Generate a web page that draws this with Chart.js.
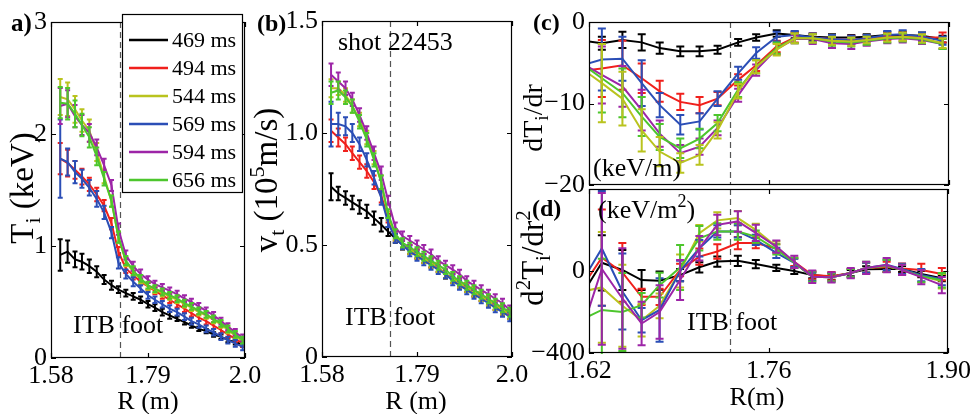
<!DOCTYPE html>
<html><head><meta charset="utf-8">
<script src="https://cdn.jsdelivr.net/npm/chart.js@4.4.0/dist/chart.umd.min.js"></script>
<style>
html,body{margin:0;padding:0;background:#fff;}
#wrap{position:relative;width:974px;height:414px;overflow:hidden;background:#fff;}
#wrap canvas{position:absolute;left:0;top:0;}
</style></head>
<body><div id="wrap">
<canvas id="ca" width="974" height="414"></canvas>
<canvas id="cb" width="974" height="414"></canvas>
<canvas id="cc" width="974" height="414"></canvas>
<canvas id="cd" width="974" height="414"></canvas>
</div>
<script>
// ---------------- DATA ----------------
const SERIES_LABELS = ['469 ms', '494 ms', '544 ms', '569 ms', '594 ms', '656 ms'];
const ITB_FOOT_R = 1.73;

// (a),(b): major radius grid of the profiles
const R_PROFILE = [1.600, 1.616, 1.632, 1.647, 1.663, 1.679, 1.695, 1.711, 1.726, 1.742, 1.758, 1.774, 1.790, 1.805, 1.821, 1.837, 1.853, 1.869, 1.884, 1.900, 1.916, 1.932, 1.948, 1.963, 1.979, 1.995];

// (a) Ti (keV)
const TI_469 = [0.92, 0.95, 0.88, 0.86, 0.82, 0.77, 0.70, 0.65, 0.61, 0.58, 0.55, 0.52, 0.48, 0.45, 0.41, 0.38, 0.35, 0.32, 0.29, 0.26, 0.24, 0.21, 0.19, 0.16, 0.14, 0.12];
const TI_494 = [1.78, 1.74, 1.68, 1.62, 1.55, 1.46, 1.36, 1.20, 0.95, 0.80, 0.74, 0.68, 0.64, 0.60, 0.56, 0.52, 0.48, 0.44, 0.40, 0.36, 0.33, 0.29, 0.25, 0.21, 0.17, 0.13];
const TI_544 = [2.33, 2.31, 2.22, 2.12, 2.03, 1.84, 1.62, 1.40, 1.08, 0.86, 0.77, 0.70, 0.64, 0.61, 0.58, 0.55, 0.52, 0.48, 0.45, 0.41, 0.38, 0.34, 0.30, 0.25, 0.20, 0.15];
const TI_569 = [1.78, 1.75, 1.66, 1.60, 1.52, 1.42, 1.30, 1.12, 0.85, 0.75, 0.68, 0.62, 0.56, 0.52, 0.48, 0.44, 0.41, 0.37, 0.33, 0.30, 0.26, 0.23, 0.19, 0.16, 0.13, 0.10];
const TI_594 = [2.25, 2.27, 2.16, 2.08, 2.01, 1.88, 1.72, 1.54, 1.15, 0.92, 0.82, 0.75, 0.70, 0.66, 0.63, 0.60, 0.57, 0.53, 0.50, 0.46, 0.42, 0.38, 0.33, 0.28, 0.23, 0.18];
const TI_656 = [2.28, 2.27, 2.18, 2.08, 1.97, 1.80, 1.60, 1.40, 1.08, 0.87, 0.78, 0.71, 0.65, 0.62, 0.59, 0.56, 0.53, 0.49, 0.46, 0.42, 0.39, 0.35, 0.31, 0.26, 0.21, 0.16];
const TI_ERR_469 = [0.14, 0.10, 0.07, 0.07, 0.06, 0.05, 0.04, 0.04, 0.03, 0.03, 0.03, 0.03, 0.03, 0.03, 0.03, 0.03, 0.02, 0.02, 0.02, 0.02, 0.02, 0.02, 0.02, 0.02, 0.02, 0.02];
const TI_ERR_494 = [0.14, 0.12, 0.08, 0.07, 0.06, 0.06, 0.05, 0.05, 0.04, 0.04, 0.04, 0.03, 0.03, 0.03, 0.03, 0.03, 0.03, 0.03, 0.03, 0.03, 0.03, 0.03, 0.03, 0.03, 0.03, 0.03];
const TI_ERR_544 = [0.16, 0.15, 0.12, 0.10, 0.10, 0.08, 0.06, 0.05, 0.05, 0.04, 0.04, 0.04, 0.03, 0.03, 0.03, 0.03, 0.03, 0.03, 0.03, 0.03, 0.03, 0.03, 0.03, 0.03, 0.03, 0.03];
const TI_ERR_569 = [0.35, 0.12, 0.10, 0.08, 0.07, 0.07, 0.06, 0.05, 0.05, 0.04, 0.04, 0.03, 0.03, 0.03, 0.03, 0.03, 0.03, 0.03, 0.03, 0.03, 0.03, 0.03, 0.03, 0.03, 0.03, 0.03];
const TI_ERR_594 = [0.16, 0.12, 0.10, 0.09, 0.08, 0.07, 0.06, 0.05, 0.05, 0.04, 0.04, 0.04, 0.03, 0.03, 0.03, 0.03, 0.03, 0.03, 0.03, 0.03, 0.03, 0.03, 0.03, 0.03, 0.03, 0.03];
const TI_ERR_656 = [0.14, 0.14, 0.12, 0.10, 0.09, 0.08, 0.06, 0.05, 0.05, 0.04, 0.04, 0.03, 0.03, 0.03, 0.03, 0.03, 0.03, 0.03, 0.03, 0.03, 0.03, 0.03, 0.03, 0.03, 0.03, 0.03];

// (b) vt (10^5 m/s)
const VT_469 = [0.76, 0.73, 0.71, 0.69, 0.67, 0.65, 0.62, 0.59, 0.56, 0.53, 0.50, 0.48, 0.46, 0.44, 0.42, 0.40, 0.37, 0.35, 0.33, 0.31, 0.29, 0.27, 0.25, 0.23, 0.21, 0.19];
const VT_494 = [1.01, 0.98, 0.95, 0.91, 0.87, 0.83, 0.78, 0.72, 0.62, 0.54, 0.50, 0.48, 0.46, 0.44, 0.42, 0.40, 0.37, 0.35, 0.33, 0.31, 0.29, 0.27, 0.25, 0.23, 0.21, 0.19];
const VT_544 = [1.20, 1.20, 1.17, 1.12, 1.06, 0.98, 0.89, 0.78, 0.63, 0.54, 0.50, 0.48, 0.46, 0.44, 0.42, 0.40, 0.37, 0.35, 0.33, 0.31, 0.29, 0.27, 0.25, 0.23, 0.21, 0.19];
const VT_569 = [1.04, 1.04, 1.03, 1.00, 0.95, 0.88, 0.80, 0.71, 0.60, 0.53, 0.50, 0.47, 0.45, 0.43, 0.41, 0.39, 0.37, 0.34, 0.32, 0.30, 0.28, 0.26, 0.24, 0.22, 0.20, 0.18];
const VT_594 = [1.26, 1.23, 1.20, 1.15, 1.08, 1.00, 0.91, 0.82, 0.70, 0.58, 0.54, 0.52, 0.50, 0.48, 0.46, 0.43, 0.41, 0.39, 0.37, 0.34, 0.32, 0.30, 0.28, 0.26, 0.24, 0.21];
const VT_656 = [1.18, 1.19, 1.16, 1.12, 1.05, 0.97, 0.88, 0.78, 0.64, 0.55, 0.51, 0.49, 0.47, 0.45, 0.43, 0.41, 0.39, 0.36, 0.34, 0.32, 0.30, 0.28, 0.26, 0.24, 0.22, 0.20];
const VT_ERR_469 = [0.06, 0.03, 0.03, 0.03, 0.03, 0.03, 0.03, 0.03, 0.02, 0.02, 0.02, 0.02, 0.02, 0.02, 0.02, 0.02, 0.02, 0.02, 0.02, 0.02, 0.02, 0.02, 0.02, 0.02, 0.02, 0.02];
const VT_ERR_494 = [0.05, 0.04, 0.03, 0.03, 0.03, 0.03, 0.03, 0.03, 0.02, 0.02, 0.02, 0.02, 0.02, 0.02, 0.02, 0.02, 0.02, 0.02, 0.02, 0.02, 0.02, 0.02, 0.02, 0.02, 0.02, 0.02];
const VT_ERR_544 = [0.04, 0.03, 0.03, 0.03, 0.03, 0.03, 0.03, 0.03, 0.02, 0.02, 0.02, 0.02, 0.02, 0.02, 0.02, 0.02, 0.02, 0.02, 0.02, 0.02, 0.02, 0.02, 0.02, 0.02, 0.02, 0.02];
const VT_ERR_569 = [0.10, 0.05, 0.04, 0.04, 0.03, 0.03, 0.03, 0.03, 0.02, 0.02, 0.02, 0.02, 0.02, 0.02, 0.02, 0.02, 0.02, 0.02, 0.02, 0.02, 0.02, 0.02, 0.02, 0.02, 0.02, 0.02];
const VT_ERR_594 = [0.05, 0.04, 0.03, 0.03, 0.03, 0.03, 0.03, 0.03, 0.02, 0.02, 0.02, 0.02, 0.02, 0.02, 0.02, 0.02, 0.02, 0.02, 0.02, 0.02, 0.02, 0.02, 0.02, 0.02, 0.02, 0.02];
const VT_ERR_656 = [0.05, 0.04, 0.03, 0.03, 0.03, 0.03, 0.03, 0.03, 0.02, 0.02, 0.02, 0.02, 0.02, 0.02, 0.02, 0.02, 0.02, 0.02, 0.02, 0.02, 0.02, 0.02, 0.02, 0.02, 0.02, 0.02];

// (c),(d): radius grid of the gradients
const R_GRAD = [1.615, 1.630, 1.646, 1.661, 1.675, 1.691, 1.706, 1.720, 1.736, 1.750, 1.766, 1.780, 1.794, 1.809, 1.824, 1.836, 1.852, 1.864, 1.879, 1.895];

// (c) dTi/dr (keV/m)
const DTI_469 = [-2.3, -2.6, -2.2, -2.5, -3.2, -3.6, -3.6, -3.4, -2.5, -1.9, -1.4, -1.6, -1.8, -1.9, -1.9, -1.8, -1.6, -1.6, -1.7, -2.1];
const DTI_494 = [-6.0, -5.7, -5.3, -6.9, -8.5, -9.8, -10.2, -9.4, -7.1, -5.3, -3.0, -1.9, -1.9, -2.1, -2.2, -2.0, -1.8, -1.8, -1.9, -1.9];
const DTI_544 = [-5.8, -7.5, -9.4, -13.3, -15.9, -17.3, -16.3, -13.3, -8.5, -5.5, -3.4, -2.0, -2.0, -2.3, -2.4, -2.2, -1.9, -1.8, -2.0, -2.6];
const DTI_569 = [-5.3, -4.6, -4.5, -7.5, -10.2, -12.6, -12.2, -9.4, -6.3, -3.8, -1.8, -1.6, -1.9, -2.1, -2.2, -2.0, -1.6, -1.5, -1.8, -2.3];
const DTI_594 = [-5.1, -6.5, -7.9, -10.8, -13.7, -16.1, -15.3, -13.0, -9.0, -5.9, -3.3, -2.1, -2.1, -2.6, -2.7, -2.4, -2.1, -2.0, -2.2, -2.7];
const DTI_656 = [-5.2, -6.9, -8.7, -11.6, -14.1, -15.5, -14.3, -12.4, -8.3, -5.5, -3.2, -2.0, -2.0, -2.4, -2.5, -2.3, -2.0, -1.9, -2.1, -2.7];
const DTI_ERR_469 = [0.8, 0.8, 1.0, 1.0, 0.7, 0.6, 0.6, 0.5, 0.4, 0.4, 0.4, 0.4, 0.4, 0.4, 0.3, 0.3, 0.4, 0.4, 0.4, 0.4];
const DTI_ERR_494 = [3.0, 3.5, 3.0, 1.8, 1.3, 1.0, 1.0, 0.8, 0.7, 0.7, 0.7, 0.6, 0.5, 0.5, 0.5, 0.4, 0.4, 0.5, 0.5, 0.6];
const DTI_ERR_544 = [4.5, 4.8, 3.3, 2.6, 1.8, 1.2, 1.2, 1.0, 0.9, 0.8, 0.7, 0.6, 0.5, 0.5, 0.5, 0.4, 0.5, 0.5, 0.5, 0.6];
const DTI_ERR_569 = [3.5, 3.8, 2.7, 2.8, 1.5, 1.2, 1.0, 0.9, 0.8, 0.7, 0.6, 0.5, 0.5, 0.5, 0.5, 0.4, 0.5, 0.5, 0.5, 0.5];
const DTI_ERR_594 = [3.5, 3.5, 2.5, 2.5, 1.6, 1.0, 1.0, 0.9, 0.8, 0.7, 0.7, 0.5, 0.6, 0.6, 0.6, 0.5, 0.5, 0.5, 0.5, 0.6];
const DTI_ERR_656 = [4.0, 4.2, 3.0, 2.4, 1.6, 1.2, 1.2, 1.0, 0.9, 0.8, 0.7, 0.6, 0.5, 0.5, 0.5, 0.5, 0.5, 0.5, 0.5, 0.6];

// (d) d2Ti/dr2 (keV/m^2)
const D2TI_469 = [-110, 40, 5, -44, -47, -20, 18, 46, 50, 34, 15, 0, -20, -28, -10, 8, 10, 10, -15, -35];
const D2TI_494 = [-75, 65, -7, -126, -126, 5, 70, 95, 136, 136, 110, 45, -20, -25, -10, 15, 20, 12, 5, -15];
const D2TI_544 = [-100, -80, -170, -240, -170, 0, 184, 247, 258, 201, 119, 40, -28, -31, -10, 15, 25, 5, -25, -50];
const D2TI_569 = [-47, 110, -100, -240, -190, 0, 111, 193, 193, 152, 88, 40, -28, -31, -10, 15, 30, 10, -20, -40];
const D2TI_594 = [-280, 10, -134, -256, -200, -44, 111, 225, 242, 186, 119, 45, -28, -31, -10, 15, 29, 5, -30, -69];
const D2TI_656 = [-235, -190, -200, -167, -69, 17, 160, 193, 193, 168, 105, 40, -28, -31, -10, 15, 25, 5, -25, -45];
const D2TI_ERR_469 = [130, 135, 98, 49, 45, 30, 25, 25, 25, 20, 15, 15, 15, 15, 15, 15, 15, 15, 15, 15];
const D2TI_ERR_494 = [200, 235, 143, 40, 40, 30, 40, 35, 30, 25, 20, 20, 20, 20, 20, 25, 25, 25, 30, 30];
const D2TI_ERR_544 = [250, 270, 200, 80, 60, 80, 40, 40, 35, 30, 25, 20, 20, 20, 20, 25, 30, 25, 30, 35];
const D2TI_ERR_569 = [250, 280, 185, 60, 155, 50, 40, 30, 30, 25, 25, 20, 20, 20, 20, 25, 25, 25, 30, 30];
const D2TI_ERR_594 = [300, 370, 245, 106, 130, 98, 60, 50, 50, 40, 30, 30, 30, 25, 25, 30, 35, 25, 35, 40];
const D2TI_ERR_656 = [240, 250, 190, 60, 60, 110, 60, 40, 40, 30, 25, 25, 25, 20, 20, 30, 30, 25, 30, 35];

// tick values and labels
const X_TICKS_AB = [1.58, 1.79, 2.0];
const X_LABELS_AB = ['1.58', '1.79', '2.0'];
const X_TICKS_CD = [1.62, 1.76, 1.90];
const X_LABELS_CD = ['1.62', '1.76', '1.90'];
const Y_TICKS_A = [0, 1, 2, 3];
const Y_LABELS_A = ['0', '1', '2', '3'];
const Y_TICKS_B = [0, 0.5, 1.0, 1.5];
const Y_LABELS_B = ['0', '0.5', '1.0', '1.5'];
const Y_TICKS_C = [-20, -10, 0];
const Y_LABELS_C = ['\u221220', '\u221210', '0'];
const Y_TICKS_D = [-400, 0, 400];
const Y_LABELS_D = ['\u2212400', '0', ''];

// ---------------- STYLE / LAYOUT ----------------
const COLORS = ['#000000', '#f0201c', '#b9c31e', '#2b4eb6', '#9d25a7', '#4dc62d'];
const FONT = "'Liberation Serif', 'Times New Roman', serif";
const W = 974, H = 414, XH = 30;
Chart.defaults.font.family = FONT;
Chart.defaults.color = '#000';

function fnt(size, bold) { return (bold ? 'bold ' : '') + size + 'px ' + FONT; }

function drawRich(ctx, parts, x, y, rot, align) {
  ctx.save();
  ctx.translate(x, y);
  if (rot) ctx.rotate(rot);
  ctx.textBaseline = 'alphabetic';
  ctx.textAlign = 'left';
  ctx.fillStyle = '#000';
  let total = 0;
  parts.forEach(p => { ctx.font = fnt(p[1], p[3]); total += ctx.measureText(p[0]).width; });
  let cx = align === 'center' ? -total / 2 : 0;
  parts.forEach(p => { ctx.font = fnt(p[1], p[3]); ctx.fillText(p[0], cx, p[2]); cx += ctx.measureText(p[0]).width; });
  ctx.restore();
}

const errorBarPlugin = {
  id: 'errorBars',
  afterDatasetDraw(chart, args, opts) {
    const ds = chart.data.datasets[args.index];
    if (!ds.errors) return;
    const xs = chart.scales.x, ys = chart.scales.y, ca = chart.chartArea, ctx = chart.ctx;
    const cap = opts.cap || 3;
    ctx.save();
    ctx.beginPath();
    ctx.rect(ca.left, ca.top - 1, ca.right - ca.left, ca.bottom - ca.top + 2);
    ctx.clip();
    ctx.strokeStyle = ds.borderColor;
    ctx.lineWidth = opts.width || 2;
    ds.data.forEach((p, i) => {
      if (p.x < xs.min || p.x > xs.max) return;
      const e = ds.errors[i];
      const px = xs.getPixelForValue(p.x);
      const y1 = ys.getPixelForValue(p.y - e), y2 = ys.getPixelForValue(p.y + e);
      ctx.beginPath();
      ctx.moveTo(px, y1); ctx.lineTo(px, y2);
      ctx.moveTo(px - cap, y1); ctx.lineTo(px + cap, y1);
      ctx.moveTo(px - cap, y2); ctx.lineTo(px + cap, y2);
      ctx.stroke();
    });
    ctx.restore();
  }
};

const decorPlugin = {
  id: 'decor',
  beforeDatasetsDraw(chart, args, opts) {
    const ctx = chart.ctx, ca = chart.chartArea, xs = chart.scales.x;
    const px = Math.round(xs.getPixelForValue(ITB_FOOT_R)) + 0.5;
    ctx.save();
    ctx.strokeStyle = '#555';
    ctx.lineWidth = 1.2;
    ctx.setLineDash([6, 4]);
    ctx.beginPath(); ctx.moveTo(px, ca.top); ctx.lineTo(px, ca.bottom); ctx.stroke();
    ctx.restore();
  },
  afterDraw(chart, args, opts) {
    const ctx = chart.ctx, ca = chart.chartArea, xs = chart.scales.x, ys = chart.scales.y;
    ctx.save();
    ctx.strokeStyle = '#000';
    ctx.lineWidth = 1.2;
    ctx.strokeRect(Math.round(ca.left) + 0.5, Math.round(ca.top) + 0.5, Math.round(ca.right - ca.left) - 1, Math.round(ca.bottom - ca.top) - 1);
    const tl = 5;
    ctx.beginPath();
    ys.ticks.forEach(t => {
      const py = Math.round(ys.getPixelForValue(t.value)) + 0.5;
      ctx.moveTo(ca.left, py); ctx.lineTo(ca.left + tl, py);
      ctx.moveTo(ca.right, py); ctx.lineTo(ca.right - tl, py);
    });
    xs.ticks.forEach(t => {
      const px = Math.round(xs.getPixelForValue(t.value)) + 0.5;
      ctx.moveTo(px, ca.top); ctx.lineTo(px, ca.top + tl);
      ctx.moveTo(px, ca.bottom); ctx.lineTo(px, ca.bottom - tl);
    });
    ctx.stroke();
    ctx.restore();
    if (opts.draw) opts.draw(ctx, chart);
  }
};

function makeChart(id, cfg) {
  const datasets = cfg.series.map((s, i) => ({
    label: SERIES_LABELS[i],
    data: cfg.x.map((x, j) => ({ x: x, y: s[j] })),
    errors: cfg.err[i],
    borderColor: COLORS[i],
    backgroundColor: COLORS[i],
    borderWidth: 2,
    pointRadius: 0,
    tension: 0,
    fill: false,
    order: cfg.drawOrder.length - cfg.drawOrder.indexOf(i)
  }));
  const box = cfg.box, YW = cfg.yw;
  return new Chart(document.getElementById(id), {
    type: 'line',
    data: { datasets },
    plugins: [errorBarPlugin, decorPlugin],
    options: {
      responsive: false,
      devicePixelRatio: 1,
      animation: false,
      events: [],
      layout: { padding: { left: box.L - YW, right: W - box.R, top: box.T, bottom: H - box.B - XH } },
      plugins: {
        legend: { display: false },
        tooltip: { enabled: false },
        errorBars: { cap: cfg.cap, width: cfg.errWidth },
        decor: { draw: cfg.draw }
      },
      scales: {
        x: {
          type: 'linear', min: cfg.xMin, max: cfg.xMax,
          grid: { display: false, drawTicks: false },
          border: { display: false },
          afterBuildTicks: sc => { sc.ticks = cfg.xTicks.map(v => ({ value: v })); },
          afterFit: sc => { sc.height = XH; },
          ticks: {
            display: cfg.showXLabels, autoSkip: false, maxRotation: 0, padding: 3, color: '#000',
            font: { family: FONT, size: 26 },
            callback: v => { const k = cfg.xTicks.indexOf(v); return k >= 0 ? cfg.xLabels[k] : ''; }
          }
        },
        y: {
          type: 'linear', min: cfg.yMin, max: cfg.yMax,
          grid: { display: false, drawTicks: false },
          border: { display: false },
          afterBuildTicks: sc => { sc.ticks = cfg.yTicks.map(v => ({ value: v })); },
          afterFit: sc => { sc.width = YW; },
          ticks: {
            autoSkip: false, padding: 4, color: '#000',
            font: { family: FONT, size: 26 },
            callback: v => { const k = cfg.yTicks.indexOf(v); return k >= 0 ? cfg.yLabels[k] : ''; }
          }
        }
      }
    }
  });
}

const ROT = -Math.PI / 2;

// (a)
makeChart('ca', {
  box: { L: 51, R: 245, T: 22, B: 358 }, yw: 48,
  x: R_PROFILE,
  series: [TI_469, TI_494, TI_544, TI_569, TI_594, TI_656],
  err: [TI_ERR_469, TI_ERR_494, TI_ERR_544, TI_ERR_569, TI_ERR_594, TI_ERR_656],
  drawOrder: [0, 1, 2, 3, 4, 5],
  xMin: 1.58, xMax: 2.0, yMin: 0, yMax: 3,
  xTicks: X_TICKS_AB, xLabels: X_LABELS_AB, yTicks: Y_TICKS_A, yLabels: Y_LABELS_A,
  showXLabels: true, cap: 2.5, errWidth: 2,
  draw: (ctx) => {
    drawRich(ctx, [['a)', 25, 0, true]], 11, 31, 0, 'left');
    drawRich(ctx, [['T', 33, 0], ['i', 22, 7], [' (keV)', 33, 0]], 33, 188, ROT, 'center');
    drawRich(ctx, [['R (m)', 26, 0]], 148, 409, 0, 'center');
    drawRich(ctx, [['ITB foot', 26, 0]], 73, 333, 0, 'left');
    // legend
    ctx.save();
    ctx.fillStyle = '#fff';
    ctx.fillRect(122, 14, 121, 179);
    ctx.strokeStyle = '#000'; ctx.lineWidth = 1.2;
    ctx.strokeRect(122.5, 14.5, 120, 178);
    SERIES_LABELS.forEach((lab, i) => {
      const yy = 40 + i * 28;
      ctx.strokeStyle = COLORS[i]; ctx.lineWidth = 2.5;
      ctx.beginPath(); ctx.moveTo(129, yy); ctx.lineTo(168, yy); ctx.stroke();
      ctx.fillStyle = '#000'; ctx.font = fnt(22); ctx.textBaseline = 'middle'; ctx.textAlign = 'left';
      ctx.fillText(lab, 172, yy + 1);
    });
    ctx.restore();
  }
});

// (b)
makeChart('cb', {
  box: { L: 322, R: 512, T: 21, B: 357 }, yw: 50,
  x: R_PROFILE,
  series: [VT_469, VT_494, VT_544, VT_569, VT_594, VT_656],
  err: [VT_ERR_469, VT_ERR_494, VT_ERR_544, VT_ERR_569, VT_ERR_594, VT_ERR_656],
  drawOrder: [0, 1, 2, 3, 4, 5],
  xMin: 1.58, xMax: 2.0, yMin: 0, yMax: 1.5,
  xTicks: X_TICKS_AB, xLabels: X_LABELS_AB, yTicks: Y_TICKS_B, yLabels: Y_LABELS_B,
  showXLabels: true, cap: 2.5, errWidth: 2,
  draw: (ctx) => {
    drawRich(ctx, [['(b)', 24, 0, true]], 257, 31, 0, 'left');
    drawRich(ctx, [['v', 33, 0], ['t', 22, 7], [' (10', 33, 0], ['5', 22, -13], ['m/s)', 33, 0]], 277, 180, ROT, 'center');
    drawRich(ctx, [['R (m)', 26, 0]], 416, 409, 0, 'center');
    drawRich(ctx, [['ITB foot', 26, 0]], 345, 325, 0, 'left');
    drawRich(ctx, [['shot 22453', 26, 0]], 338, 50, 0, 'left');
  }
});

// (c)
makeChart('cc', {
  box: { L: 589, R: 949, T: 22, B: 185 }, yw: 66,
  x: R_GRAD,
  series: [DTI_469, DTI_494, DTI_544, DTI_569, DTI_594, DTI_656],
  err: [DTI_ERR_469, DTI_ERR_494, DTI_ERR_544, DTI_ERR_569, DTI_ERR_594, DTI_ERR_656],
  drawOrder: [0, 1, 3, 4, 5, 2],
  xMin: 1.62, xMax: 1.90, yMin: -20, yMax: 0,
  xTicks: X_TICKS_CD, xLabels: X_LABELS_CD, yTicks: Y_TICKS_C, yLabels: Y_LABELS_C,
  showXLabels: false, cap: 4, errWidth: 2,
  draw: (ctx) => {
    drawRich(ctx, [['(c)', 24, 0, true]], 533, 30, 0, 'left');
    drawRich(ctx, [['dT', 28, 0], ['i', 19, 6], ['/dr', 28, 0]], 542, 118, ROT, 'center');
    drawRich(ctx, [['(keV/m)', 26, 0]], 593, 176, 0, 'left');
  }
});

// (d)
makeChart('cd', {
  box: { L: 589, R: 949, T: 189, B: 353 }, yw: 70,
  x: R_GRAD,
  series: [D2TI_469, D2TI_494, D2TI_544, D2TI_569, D2TI_594, D2TI_656],
  err: [D2TI_ERR_469, D2TI_ERR_494, D2TI_ERR_544, D2TI_ERR_569, D2TI_ERR_594, D2TI_ERR_656],
  drawOrder: [0, 1, 2, 3, 5, 4],
  xMin: 1.62, xMax: 1.90, yMin: -400, yMax: 400,
  xTicks: X_TICKS_CD, xLabels: X_LABELS_CD, yTicks: Y_TICKS_D, yLabels: Y_LABELS_D,
  showXLabels: true, cap: 4, errWidth: 2,
  draw: (ctx) => {
    drawRich(ctx, [['(d)', 24, 0, true]], 532, 216, 0, 'left');
    drawRich(ctx, [['d', 31, 0], ['2', 21, -13], ['T', 31, 0], ['i', 21, 7], ['/dr', 31, 0], ['2', 21, -13]], 543, 258, ROT, 'center');
    drawRich(ctx, [['(keV/m', 26, 0], ['2', 18, -11], [')', 26, 0]], 598, 218, 0, 'left');
    drawRich(ctx, [['ITB foot', 26, 0]], 687, 330, 0, 'left');
    drawRich(ctx, [['R(m)', 26, 0]], 757, 405, 0, 'center');
  }
});
</script>
</body></html>
